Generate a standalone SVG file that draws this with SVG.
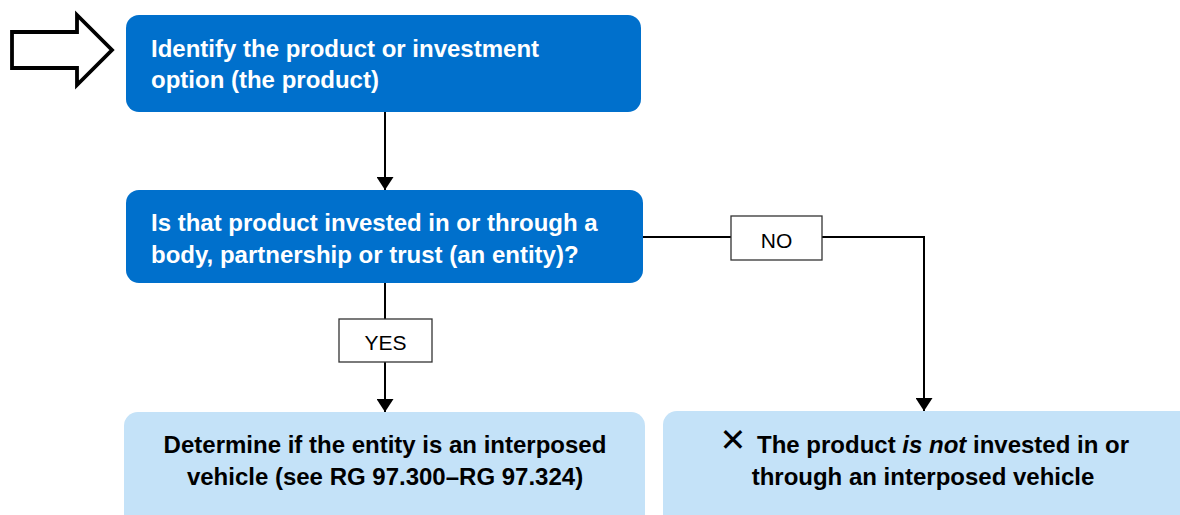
<svg xmlns="http://www.w3.org/2000/svg" width="1180" height="515" viewBox="0 0 1180 515">
<defs>
<style>
.dark{fill:#0070CC;}
.light{fill:#C4E2F8;}
.wt{font-family:"Liberation Sans",Arial,sans-serif;font-size:24px;font-weight:bold;fill:#ffffff;}
.bt{font-family:"Liberation Sans",Arial,sans-serif;font-size:24px;font-weight:bold;fill:#000000;}
.lbl{fill:#ffffff;stroke:#333333;stroke-width:1.3;}
.lt{font-family:"Liberation Sans",Arial,sans-serif;font-size:21px;fill:#000000;text-anchor:middle;}
.conn{fill:none;stroke:#000000;stroke-width:2;}
</style>
<marker id="ah" viewBox="0 0 13 17" refX="13" refY="8.5" markerWidth="13" markerHeight="17" markerUnits="userSpaceOnUse" orient="auto">
<path d="M0,0 L13,8.5 L0,17 Z" fill="#000000"/>
</marker>
</defs>
<rect width="1180" height="515" fill="#ffffff"/>
<g id="start-arrow">
<polygon points="12,32 77,32 77,15 112,50 77,85 77,68 12,68" fill="#ffffff" stroke="#000000" stroke-width="3.8"/>
</g>
<g id="connectors">
<line class="conn" x1="385" y1="112" x2="385" y2="190" marker-end="url(#ah)"/>
<line class="conn" x1="385" y1="283" x2="385" y2="319"/>
<line class="conn" x1="385" y1="362" x2="385" y2="412" marker-end="url(#ah)"/>
<line class="conn" x1="643" y1="237" x2="731" y2="237"/>
<polyline class="conn" points="822,237 924,237 924,411" marker-end="url(#ah)"/>
</g>
<g id="node-identify">
<rect class="dark" x="126" y="15" width="515" height="97" rx="13"/>
<text class="wt" x="151" y="57">Identify the product or investment</text>
<text class="wt" x="151" y="88">option (the product)</text>
</g>
<g id="node-question">
<rect class="dark" x="126" y="190" width="517" height="93" rx="13"/>
<text class="wt" x="151" y="231">Is that product invested in or through a</text>
<text class="wt" x="151" y="263">body, partnership or trust (an entity)?</text>
</g>
<g id="label-yes">
<rect class="lbl" x="339" y="319" width="93" height="43"/>
<text class="lt" x="385.5" y="350">YES</text>
</g>
<g id="label-no">
<rect class="lbl" x="731" y="216" width="91" height="44"/>
<text class="lt" x="776.5" y="248">NO</text>
</g>
<g id="node-determine">
<rect class="light" x="124" y="412" width="521" height="120" rx="14"/>
<text class="bt" x="385" y="453" text-anchor="middle">Determine if the entity is an interposed</text>
<text class="bt" x="385" y="485" text-anchor="middle">vehicle (see RG 97.300–RG 97.324)</text>
</g>
<g id="node-not">
<rect class="light" x="663" y="411" width="540" height="120" rx="14"/>
<text x="733" y="451" font-family="DejaVu Sans,sans-serif" font-size="32" text-anchor="middle" fill="#000000">✕</text>
<text class="bt" x="757" y="453">The product <tspan font-style="italic">is not</tspan> invested in or</text>
<text class="bt" x="923" y="485" text-anchor="middle">through an interposed vehicle</text>
</g>
</svg>
